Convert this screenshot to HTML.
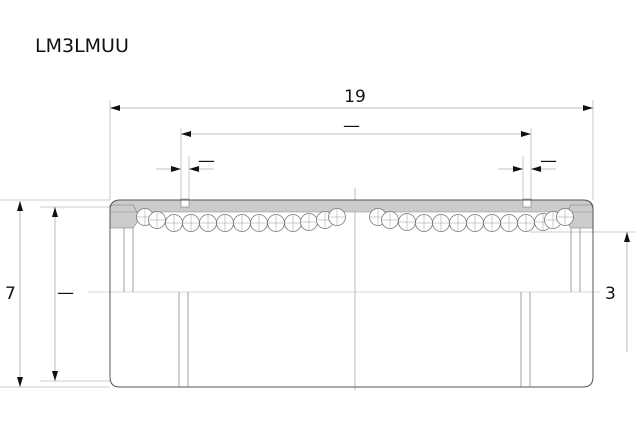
<!DOCTYPE html>
<html><head><meta charset="utf-8"><style>
body{margin:0;background:#fff;width:640px;height:440px;overflow:hidden}
svg{display:block}
text{font-family:"DejaVu Sans","Liberation Sans",sans-serif;fill:#111}
</style></head><body>
<svg width="640" height="440" viewBox="0 0 640 440" xmlns="http://www.w3.org/2000/svg">
<defs>
<marker id="a" viewBox="0 0 10 6" refX="10" refY="3" markerWidth="10" markerHeight="6" orient="auto-start-reverse" markerUnits="userSpaceOnUse"><path d="M0,0L10,3L0,6z" fill="#111"/></marker>
<g id="ball"><circle r="8.5" fill="#fff" stroke="#777" stroke-width="0.8"/><path d="M-8.5,0H8.5M0,-8.5V8.5" stroke="#999" stroke-width="0.5"/></g>
</defs>
<text x="35" y="52" font-size="19">LM3LMUU</text>
<g stroke="#bbb" stroke-width="0.8" fill="none">
<line x1="110" y1="100" x2="110" y2="200"/>
<line x1="593" y1="100" x2="593" y2="200"/>
<line x1="181" y1="128" x2="181" y2="200"/>
<line x1="531" y1="128" x2="531" y2="200"/>
<line x1="189" y1="156" x2="189" y2="200"/>
<line x1="523" y1="156" x2="523" y2="200"/>
<line x1="0" y1="200" x2="110" y2="200"/>
<line x1="40" y1="207" x2="110" y2="207"/>
<line x1="0" y1="387" x2="110" y2="387"/>
<line x1="40" y1="381" x2="110" y2="381"/>
<line x1="530" y1="232" x2="636" y2="232"/>
<line x1="88" y1="292" x2="600" y2="292" stroke="#ccc"/>
<line x1="355" y1="188" x2="355" y2="390" stroke="#aaa"/>
</g>
<g stroke="#aaa" stroke-width="0.8" fill="none">
<line x1="110" y1="108" x2="593" y2="108" marker-start="url(#a)" marker-end="url(#a)"/>
<line x1="181" y1="134" x2="531" y2="134" marker-start="url(#a)" marker-end="url(#a)"/>
<line x1="156" y1="169" x2="181" y2="169" marker-end="url(#a)"/>
<line x1="214" y1="169" x2="189" y2="169" marker-end="url(#a)"/>
<line x1="498" y1="169" x2="523" y2="169" marker-end="url(#a)"/>
<line x1="556" y1="169" x2="531" y2="169" marker-end="url(#a)"/>
<line x1="20" y1="201" x2="20" y2="387" marker-start="url(#a)" marker-end="url(#a)"/>
<line x1="55" y1="207" x2="55" y2="381" marker-start="url(#a)" marker-end="url(#a)"/>
<line x1="627" y1="352" x2="627" y2="232" marker-end="url(#a)"/>
</g>
<text x="355" y="102" font-size="17" text-anchor="middle">19</text>
<text x="343" y="131" font-size="17">—</text>
<text x="198" y="166" font-size="17">—</text>
<text x="540" y="166" font-size="17">—</text>
<text x="5" y="299" font-size="17">7</text>
<text x="57" y="298" font-size="17">—</text>
<text x="605" y="299" font-size="17">3</text>
<path d="M110,212 L593,212 L593,205 Q593,200 583,200 L120,200 Q110,200 110,210Z" fill="#ccc"/>
<path d="M110,205 L133,205 L140,218 L133,228 L110,228Z" fill="#ccc" stroke="#777" stroke-width="0.6"/>
<path d="M593,205 L571,205 L564,218 L571,228 L593,228Z" fill="#ccc" stroke="#777" stroke-width="0.6"/>
<rect x="181" y="199" width="8" height="8" fill="#fff" stroke="#777" stroke-width="0.6"/>
<rect x="523" y="199" width="8" height="8" fill="#fff" stroke="#777" stroke-width="0.6"/>
<g stroke="#555" stroke-width="1" fill="none">
<path d="M120,200 L583,200 Q593,200 593,210 L593,377 Q593,387 583,387 L120,387 Q110,387 110,377 L110,210 Q110,200 120,200Z"/>
<line x1="110" y1="212" x2="593" y2="212" stroke="#888" stroke-width="0.6"/>
</g>
<g stroke="#888" stroke-width="0.8" fill="none">
<line x1="124" y1="228" x2="124" y2="292"/>
<line x1="133" y1="228" x2="133" y2="292"/>
<line x1="571" y1="228" x2="571" y2="292"/>
<line x1="580" y1="228" x2="580" y2="292"/>
<line x1="179" y1="292" x2="179" y2="387"/>
<line x1="188" y1="292" x2="188" y2="387"/>
<line x1="521" y1="292" x2="521" y2="387"/>
<line x1="530" y1="292" x2="530" y2="387"/>
</g>
<use href="#ball" x="145" y="217"/><use href="#ball" x="157" y="220"/>
<use href="#ball" x="174" y="223"/><use href="#ball" x="191" y="223"/><use href="#ball" x="208" y="223"/><use href="#ball" x="225" y="223"/><use href="#ball" x="242" y="223"/><use href="#ball" x="259" y="223"/><use href="#ball" x="276" y="223"/><use href="#ball" x="293" y="223"/><use href="#ball" x="309" y="222"/>
<use href="#ball" x="325" y="220"/><use href="#ball" x="337" y="217"/>
<use href="#ball" x="378" y="217"/><use href="#ball" x="390" y="220"/>
<use href="#ball" x="407" y="222"/><use href="#ball" x="424" y="223"/><use href="#ball" x="441" y="223"/><use href="#ball" x="458" y="223"/><use href="#ball" x="475" y="223"/><use href="#ball" x="492" y="223"/><use href="#ball" x="509" y="223"/><use href="#ball" x="526" y="223"/><use href="#ball" x="543" y="222"/>
<use href="#ball" x="553" y="220"/><use href="#ball" x="565" y="217"/>
</svg>
</body></html>
